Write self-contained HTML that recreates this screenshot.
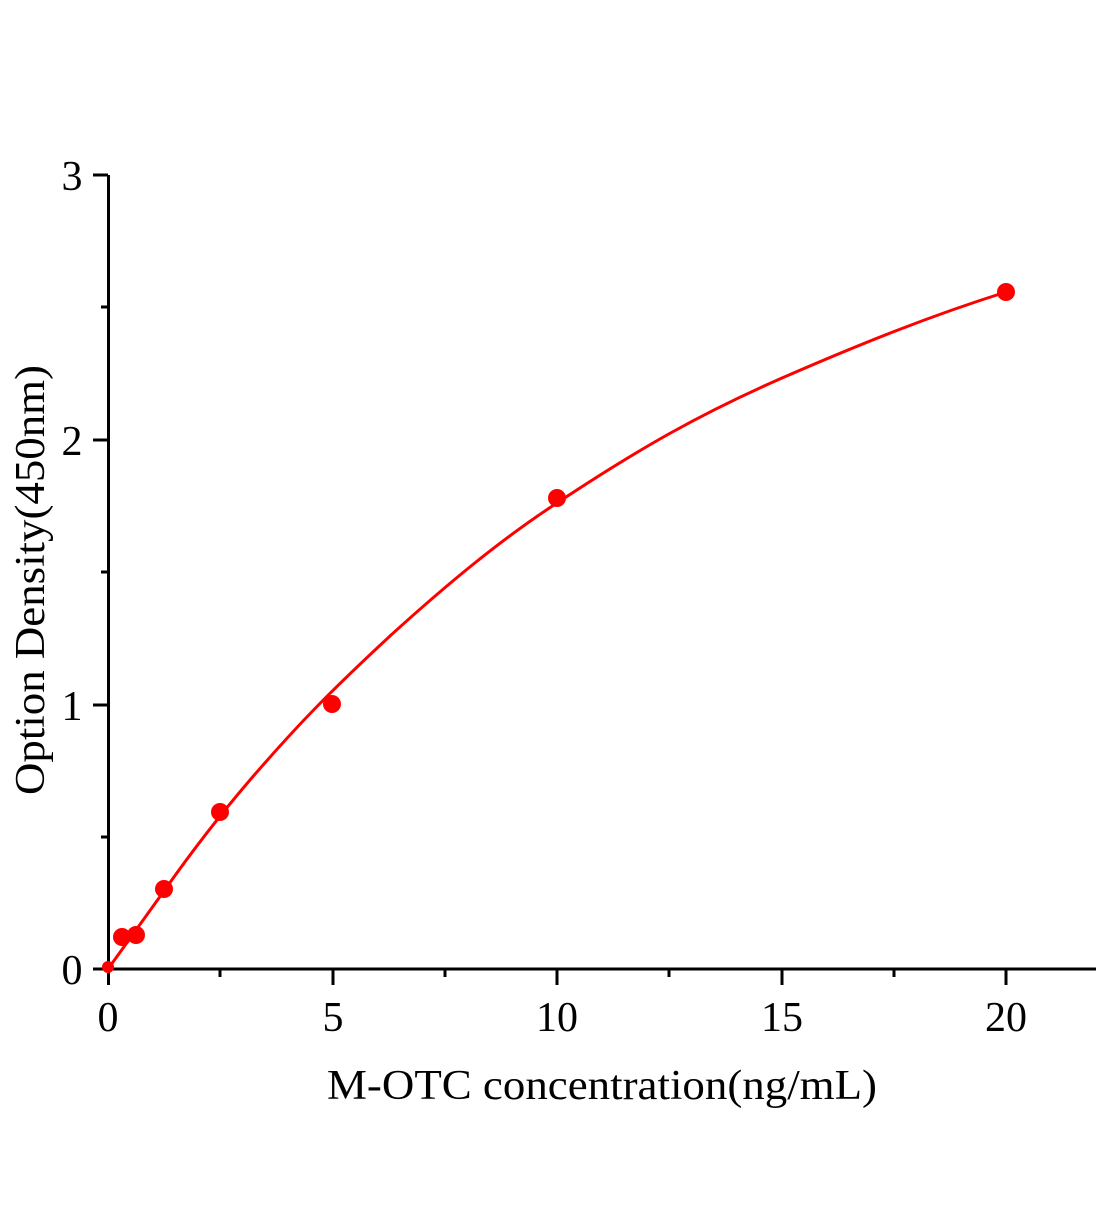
<!DOCTYPE html>
<html><head><meta charset="utf-8"><style>html,body{margin:0;padding:0;background:#fff}</style></head>
<body>
<svg width="1104" height="1200" xmlns="http://www.w3.org/2000/svg" font-family="Liberation Serif, serif">
<g stroke="#000" stroke-width="3" fill="none">
<line x1="93" y1="969" x2="1096" y2="969"/>
<line x1="108.5" y1="175" x2="108.5" y2="970"/>
<line x1="93" y1="175" x2="108" y2="175"/>
<line x1="93" y1="440" x2="108" y2="440"/>
<line x1="93" y1="705" x2="108" y2="705"/>
<line x1="101" y1="307" x2="108" y2="307"/>
<line x1="101" y1="572" x2="108" y2="572"/>
<line x1="101" y1="837" x2="108" y2="837"/>
<line x1="108.5" y1="969" x2="108.5" y2="985"/>
<line x1="333" y1="969" x2="333" y2="985"/>
<line x1="557" y1="969" x2="557" y2="985"/>
<line x1="782" y1="969" x2="782" y2="985"/>
<line x1="1006" y1="969" x2="1006" y2="985"/>
<line x1="220" y1="969" x2="220" y2="977"/>
<line x1="445" y1="969" x2="445" y2="977"/>
<line x1="669" y1="969" x2="669" y2="977"/>
<line x1="894" y1="969" x2="894" y2="977"/>
</g>
<g font-size="42" fill="#000" text-anchor="middle">
<text x="108" y="1031">0</text>
<text x="333" y="1031">5</text>
<text x="557" y="1031">10</text>
<text x="782" y="1031">15</text>
<text x="1006" y="1031">20</text>
<text x="72" y="984">0</text>
<text x="72" y="720">1</text>
<text x="72" y="455">2</text>
<text x="72" y="190">3</text>
<text x="602" y="1099" textLength="550" lengthAdjust="spacingAndGlyphs">M-OTC concentration(ng/mL)</text>
<text transform="translate(44,580) rotate(-90)" textLength="430" lengthAdjust="spacingAndGlyphs">Option Density(450nm)</text>
</g>
<path fill="none" stroke="#f00" stroke-width="3" d="M108,969 L164,891 C190,854 220,815 250,780 C300,722 332,690 390,636 C445,586 500,540 557,503 C640,448 700,414 782,378 C860,344 930,316 1006,292"/>
<g fill="#f00">
<circle cx="108" cy="967" r="6"/>
<circle cx="122" cy="937" r="9"/>
<circle cx="136" cy="935" r="9"/>
<circle cx="164" cy="889" r="9"/>
<circle cx="220" cy="812" r="9"/>
<circle cx="332" cy="704" r="9"/>
<circle cx="557" cy="498" r="9"/>
<circle cx="1006" cy="292" r="9"/>
</g>
</svg>
</body></html>
